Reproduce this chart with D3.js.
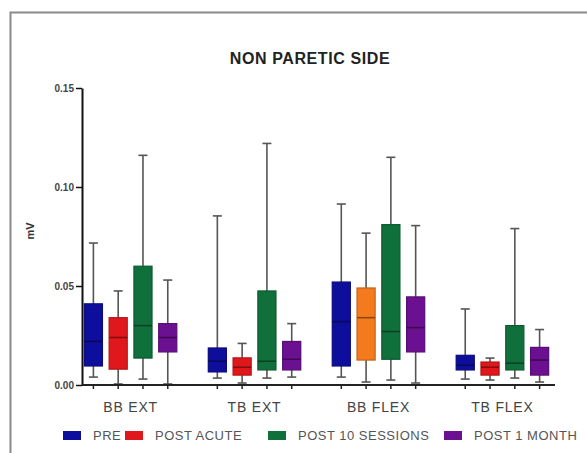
<!DOCTYPE html>
<html><head><meta charset="utf-8">
<script src="https://cdn.jsdelivr.net/npm/d3@7"></script>
<style>body{margin:0;background:#fff}svg{display:block}</style>
</head><body>
<svg id="c" width="587" height="453"></svg>
<script>
// ---- data ----
const categories = ["BB EXT", "TB EXT", "BB FLEX", "TB FLEX"];
const seriesNames = ["PRE", "POST ACUTE", "POST 10 SESSIONS", "POST 1 MONTH"];
const yTicks = [0, 0.05, 0.10, 0.15];
// five-number summaries [min, q1, median, q3, max] per category
const pre       = [[0.004, 0.0096, 0.022, 0.041, 0.0717], [0.0035, 0.0066, 0.012, 0.0187, 0.0854], [0.004, 0.0096, 0.032, 0.052, 0.0914], [0.003, 0.0076, 0.010, 0.015, 0.0384]];
const postAcute = [[0.0005, 0.008, 0.024, 0.034, 0.0475], [0.001, 0.005, 0.009, 0.0137, 0.021], [0.0015, 0.0126, 0.034, 0.049, 0.0767], [0.0025, 0.005, 0.009, 0.0116, 0.0136]];
const post10    = [[0.003, 0.0136, 0.030, 0.060, 0.116], [0.0035, 0.0076, 0.012, 0.0475, 0.122], [0.0025, 0.013, 0.027, 0.081, 0.115], [0.0035, 0.0076, 0.011, 0.030, 0.079]];
const post1m    = [[0.0005, 0.0167, 0.024, 0.031, 0.053], [0.004, 0.0076, 0.013, 0.022, 0.031], [0.001, 0.0167, 0.029, 0.0445, 0.0805], [0.0015, 0.005, 0.0126, 0.019, 0.028]];
const seriesData = [pre, postAcute, post10, post1m];

// ---- styles ----
const colors = ["#0e0e9c", "#e0181c", "#10703c", "#6a1090"];
const overrideColor = {"BB FLEX|POST ACUTE": "#f47a1e"};
const font = "Liberation Sans, Arial, sans-serif";

const svg = d3.select("#c");
// outer frame
svg.append("path").attr("d", "M10.5,453 L10.5,12.5 L587,12.5")
  .attr("fill", "none").attr("stroke", "#8a8a8a").attr("stroke-width", 2);

const x0 = 82, x1 = 555, yBase = 385, yTop = 88;
const y = d3.scaleLinear().domain([0, 0.15]).range([yBase, yTop]);
const slot = (x1 - x0 - 2) / 19;
const gx = d3.scaleBand().domain(categories).range([x0 - 1, x0 - 1 + slot * 20]);
const sx = d3.scaleBand().domain(seriesNames).range([0, slot * 4]).paddingInner(0.27).paddingOuter(0.135);

// title
svg.append("text").attr("x", 310).attr("y", 64).attr("text-anchor", "middle")
  .attr("font-family", font).attr("font-weight", "bold").attr("font-size", 16)
  .attr("letter-spacing", 0.6).attr("fill", "#222").text("NON PARETIC SIDE");

// y axis
const yAxis = svg.append("g").attr("transform", `translate(${x0},0)`)
  .call(d3.axisLeft(y).tickValues(yTicks).tickFormat(d3.format(".2f")).tickSize(6).tickSizeOuter(0));
yAxis.select(".domain").attr("stroke", "#111").attr("stroke-width", 2);
yAxis.selectAll(".tick line").attr("stroke", "#111").attr("stroke-width", 1.5);
yAxis.selectAll(".tick text").attr("font-family", font).attr("font-size", 10)
  .attr("font-weight", "bold").attr("fill", "#444").attr("x", -8);

svg.append("text").attr("transform", "translate(34,231) rotate(-90)")
  .attr("text-anchor", "middle").attr("font-family", font).attr("font-size", 11)
  .attr("font-weight", "bold").attr("fill", "#333").text("mV");

// boxes
const boxes = [];
seriesData.forEach((arr, si) => arr.forEach((v, ci) => {
  boxes.push({cat: categories[ci], ser: seriesNames[si], si, v});
}));
const g = svg.append("g");
boxes.forEach(b => {
  const cx = gx(b.cat) + sx(b.ser) + sx.bandwidth() / 2;
  const w = sx.bandwidth();
  const col = overrideColor[b.cat + "|" + b.ser] || colors[b.si];
  const [mn, q1, md, q3, mx] = b.v;
  g.append("line").attr("x1", cx).attr("x2", cx).attr("y1", y(mx)).attr("y2", y(q3))
    .attr("stroke", "#555").attr("stroke-width", 1.6);
  g.append("line").attr("x1", cx).attr("x2", cx).attr("y1", y(q1)).attr("y2", y(mn))
    .attr("stroke", "#555").attr("stroke-width", 1.6);
  [mx, mn].forEach(v => g.append("line").attr("x1", cx - 4.5).attr("x2", cx + 4.5)
    .attr("y1", y(v)).attr("y2", y(v)).attr("stroke", "#555").attr("stroke-width", 1.6));
  g.append("rect").attr("x", cx - w / 2).attr("y", y(q3)).attr("width", w)
    .attr("height", y(q1) - y(q3)).attr("fill", col)
    .attr("stroke", d3.color(col).darker(0.6)).attr("stroke-width", 1.2);
  g.append("line").attr("x1", cx - w / 2).attr("x2", cx + w / 2).attr("y1", y(md)).attr("y2", y(md))
    .attr("stroke", d3.color(col).darker(1.6)).attr("stroke-width", 1.5);
});

// x axis
svg.append("line").attr("x1", x0).attr("x2", x1).attr("y1", yBase).attr("y2", yBase)
  .attr("stroke", "#222").attr("stroke-width", 2.2);
boxes.forEach(b => {
  const cx = gx(b.cat) + sx(b.ser) + sx.bandwidth() / 2;
  svg.append("line").attr("x1", cx).attr("x2", cx).attr("y1", yBase).attr("y2", yBase + 4)
    .attr("stroke", "#222").attr("stroke-width", 1.5);
});
categories.forEach(c => {
  svg.append("text").attr("x", gx(c) + slot * 2).attr("y", 412).attr("text-anchor", "middle")
    .attr("font-family", font).attr("font-size", 14).attr("letter-spacing", 0.8)
    .attr("fill", "#444").text(c);
});

// legend
const legX = [63, 125, 268, 444];
seriesNames.forEach((s, i) => {
  svg.append("rect").attr("x", legX[i]).attr("y", 431).attr("width", 18).attr("height", 9)
    .attr("fill", colors[i]);
  svg.append("text").attr("x", legX[i] + 30).attr("y", 440).attr("font-family", font)
    .attr("font-size", 13).attr("letter-spacing", 0.5).attr("fill", "#555").text(s);
});
</script>
</body></html>
